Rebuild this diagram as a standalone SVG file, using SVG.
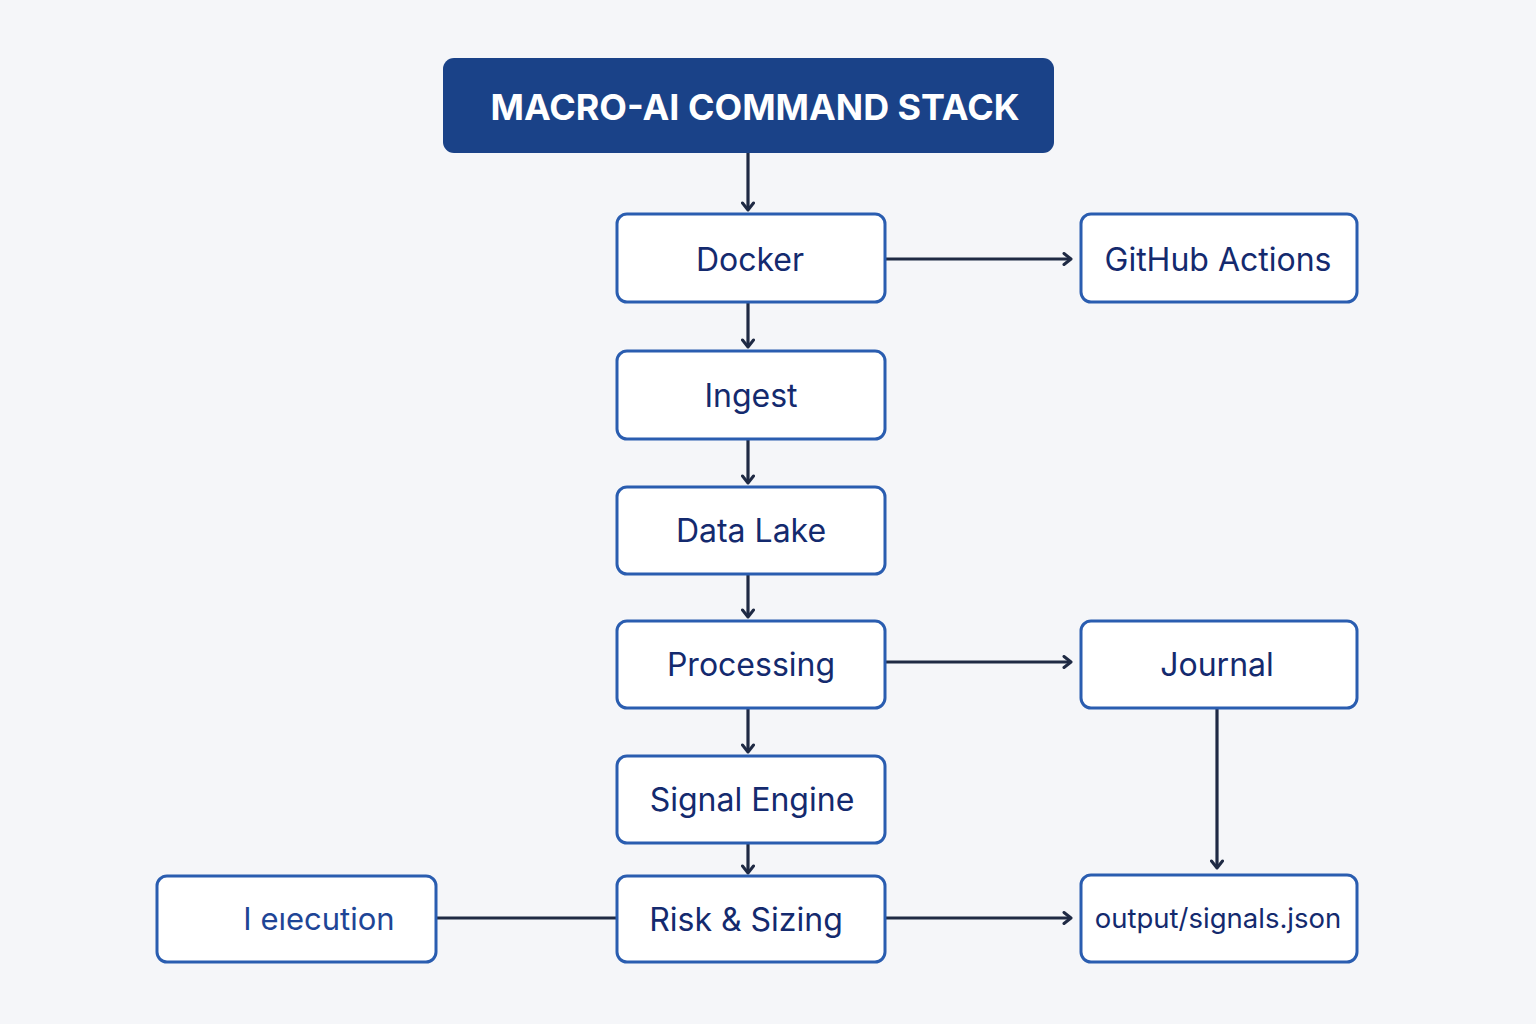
<svg xmlns="http://www.w3.org/2000/svg" width="1536" height="1024" viewBox="0 0 1536 1024">
<defs>
<style>
.box{fill:#ffffff;stroke:#2a5db0;stroke-width:3}
.lbl{font-family:"Inter","Noto Sans","Liberation Sans",sans-serif;font-size:32px;fill:#142a6e;text-anchor:middle;dominant-baseline:central}
.ln{stroke:#1f2a44;stroke-width:3.2;fill:none}
</style>
<marker id="ah" viewBox="0 0 14 14" refX="12" refY="7" markerWidth="14" markerHeight="14" markerUnits="userSpaceOnUse" orient="auto">
<polyline points="5,1.5 12,7 5,12.5" fill="none" stroke="#1f2a44" stroke-width="3" stroke-linecap="round" stroke-linejoin="round"/>
</marker>
</defs>
<rect width="1536" height="1024" fill="#f5f6f9"/>
<g id="connectors">
<line class="ln" x1="748" y1="153" x2="748" y2="210" marker-end="url(#ah)"/>
<line class="ln" x1="748" y1="302" x2="748" y2="347" marker-end="url(#ah)"/>
<line class="ln" x1="748" y1="439" x2="748" y2="483" marker-end="url(#ah)"/>
<line class="ln" x1="748" y1="574" x2="748" y2="617" marker-end="url(#ah)"/>
<line class="ln" x1="748" y1="708" x2="748" y2="752" marker-end="url(#ah)"/>
<line class="ln" x1="748" y1="843" x2="748" y2="873" marker-end="url(#ah)"/>
<line class="ln" x1="885" y1="259" x2="1071" y2="259" marker-end="url(#ah)"/>
<line class="ln" x1="885" y1="662" x2="1071" y2="662" marker-end="url(#ah)"/>
<line class="ln" x1="885" y1="918" x2="1071" y2="918" marker-end="url(#ah)"/>
<line class="ln" x1="1217" y1="708" x2="1217" y2="868" marker-end="url(#ah)"/>
<line class="ln" x1="436" y1="918" x2="617" y2="918"/>
</g>
<g id="title">
<rect x="443" y="58" width="611" height="95" rx="11" fill="#1a4288"/>
<text x="755" y="107" font-family="Inter,'Noto Sans','Liberation Sans',sans-serif" font-size="36" font-weight="700" fill="#ffffff" text-anchor="middle" dominant-baseline="central" textLength="529" lengthAdjust="spacingAndGlyphs">MACRO-AI COMMAND STACK</text>
</g>
<g id="docker"><rect class="box" x="617" y="214" width="268" height="88" rx="10"/><text class="lbl" x="750" y="259">Docker</text></g>
<g id="github"><rect class="box" x="1081" y="214" width="276" height="88" rx="10"/><text class="lbl" x="1218" y="259">GitHub Actions</text></g>
<g id="ingest"><rect class="box" x="617" y="351" width="268" height="88" rx="10"/><text class="lbl" x="751" y="395">Ingest</text></g>
<g id="datalake"><rect class="box" x="617" y="487" width="268" height="87" rx="10"/><text class="lbl" x="751" y="530">Data Lake</text></g>
<g id="processing"><rect class="box" x="617" y="621" width="268" height="87" rx="10"/><text class="lbl" x="751" y="664">Processing</text></g>
<g id="journal"><rect class="box" x="1081" y="621" width="276" height="87" rx="10"/><text class="lbl" x="1217" y="664">Journal</text></g>
<g id="signal"><rect class="box" x="617" y="756" width="268" height="87" rx="10"/><text class="lbl" x="752" y="799">Signal Engine</text></g>
<g id="risk"><rect class="box" x="617" y="876" width="268" height="86" rx="10"/><text class="lbl" x="746" y="919">Risk &amp; Sizing</text></g>
<g id="output"><rect class="box" x="1081" y="875" width="276" height="87" rx="10"/><text class="lbl" x="1218" y="918" style="font-size:27.5px">output/signals.json</text></g>
<g id="execution"><rect class="box" x="157" y="876" width="279" height="86" rx="10"/><text class="lbl" x="319" y="918" style="fill:#1e4596;font-size:31px">I eıecution</text></g>
</svg>
